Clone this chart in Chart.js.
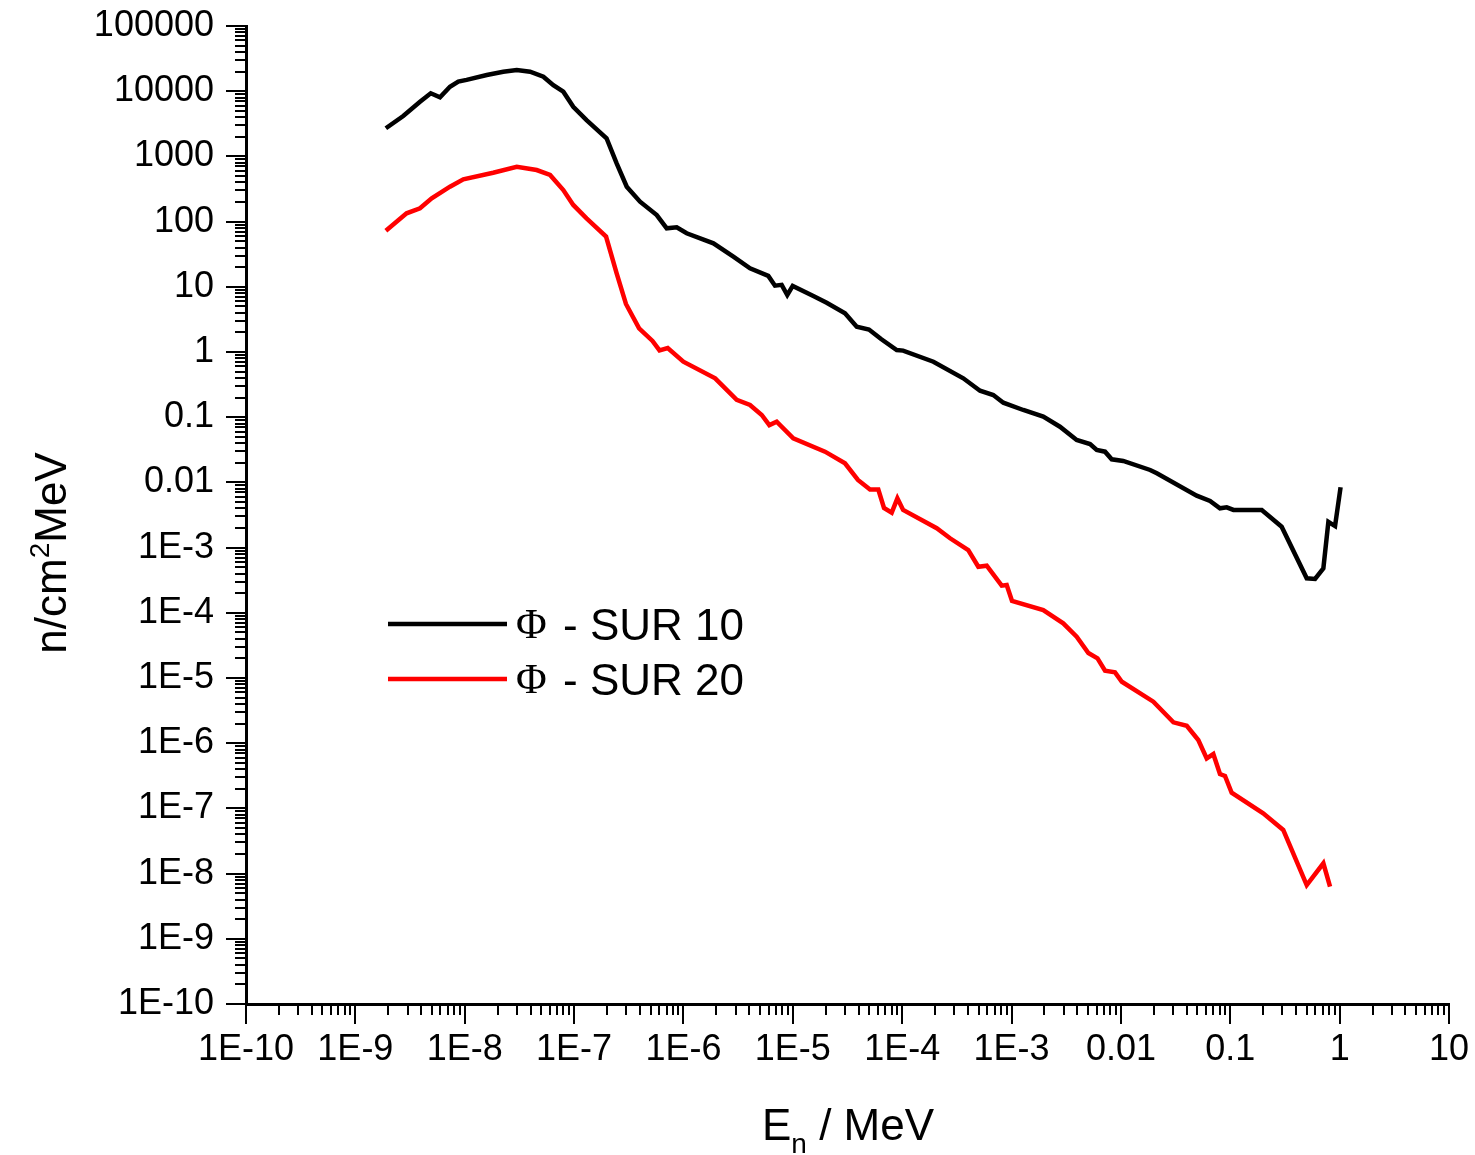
<!DOCTYPE html>
<html><head><meta charset="utf-8">
<script src="https://cdn.jsdelivr.net/npm/chart.js@4.4.1/dist/chart.umd.min.js"></script>
<style>html,body{margin:0;padding:0;background:#fff}canvas{display:block}</style>
</head><body>
<canvas id="c" width="1475" height="1155"></canvas>
<script>
// ---- data ----
const sur10E = [1.9e-9,2.74e-9,3.9e-9,4.89e-9,5.94e-9,7.33e-9,8.73e-9,1.04e-8,1.59e-8,2.25e-8,2.99e-8,3.96e-8,5.24e-8,6.46e-8,7.97e-8,9.83e-8,1.30e-7,1.98e-7,2.45e-7,3.03e-7,4.01e-7,5.70e-7,7.03e-7,8.68e-7,1.07e-6,1.88e-6,2.86e-6,4.06e-6,5.97e-6,6.87e-6,7.91e-6,8.90e-6,9.98e-6,1.54e-5,2.04e-5,3.00e-5,3.84e-5,4.97e-5,6.41e-5,8.91e-5,1.02e-4,1.93e-4,3.62e-4,5.15e-4,6.81e-4,8.41e-4,1.28e-3,1.95e-3,2.77e-3,3.94e-3,5.22e-3,6.01e-3,7.16e-3,8.24e-3,1.05e-2,1.85e-2,2.13e-2,4.93e-2,6.53e-2,8.05e-2,9.28e-2,0.107,0.194,0.295,0.500,0.596,0.710,0.789,0.908,1.02];
const sur10Flux = [2700,4170,6900,9290,8060,11700,14000,14900,17700,19900,21100,19900,16700,12400,9810,5780,3610,1900,783,343,202,126,78.9,81.8,66.2,46.5,29.0,19.2,14.7,10.4,10.7,7.48,10.3,7.23,5.70,3.93,2.44,2.21,1.58,1.07,1.05,0.710,0.395,0.255,0.219,0.167,0.129,0.102,0.0715,0.0447,0.0388,0.0314,0.0296,0.0226,0.0213,0.0155,0.0138,0.00626,0.00519,0.00401,0.00415,0.00378,0.00378,0.00209,3.38e-4,3.30e-4,4.82e-4,2.49e-3,2.14e-3,8.41e-3];
const sur20E = [1.9e-9,2.94e-9,3.9e-9,4.99e-9,7.33e-9,9.71e-9,1.82e-8,2.99e-8,4.55e-8,6.03e-8,7.97e-8,9.83e-8,1.30e-7,1.96e-7,2.45e-7,2.98e-7,3.93e-7,5.21e-7,6.04e-7,7.18e-7,9.98e-7,1.95e-6,3.07e-6,4.06e-6,5.20e-6,6.10e-6,7.12e-6,1.01e-5,1.97e-5,3.00e-5,3.94e-5,5.08e-5,6.05e-5,6.82e-5,8.02e-5,9.04e-5,1.02e-4,2.07e-4,2.74e-4,4.02e-4,4.97e-4,5.93e-4,8.13e-4,9.03e-4,1.01e-3,1.95e-3,2.97e-3,3.94e-3,5.04e-3,6.11e-3,7.16e-3,8.83e-3,1.02e-2,1.98e-2,3.02e-2,4.00e-2,5.10e-2,6.09e-2,7.00e-2,8.05e-2,8.95e-2,0.103,0.200,0.305,0.500,0.710,0.817];
const sur20Flux = [72.5,134,160,228,343,446,562,695,618,519,305,180,112,59.0,16.1,5.45,2.31,1.48,1.06,1.15,0.710,0.395,0.184,0.154,0.108,0.0757,0.0853,0.0474,0.0296,0.0196,0.0109,0.00776,0.00776,0.00405,0.00343,0.00570,0.00378,0.00198,0.00139,9.19e-4,5.09e-4,5.27e-4,2.61e-4,2.67e-4,1.52e-4,1.10e-4,6.90e-5,4.30e-5,2.42e-5,2.00e-5,1.29e-5,1.22e-5,8.77e-6,4.33e-6,2.09e-6,1.85e-6,1.12e-6,5.86e-7,6.82e-7,3.37e-7,3.14e-7,1.74e-7,8.41e-8,4.67e-8,6.68e-9,1.44e-8,6.30e-9];
const seriesLabels = ['Φ - SUR 10','Φ - SUR 20'];
const seriesColors = ['#000000','#ff0000'];
const xDecadeExps = [-10,-9,-8,-7,-6,-5,-4,-3,-2,-1,0,1];
const xTickLabels = ['1E-10','1E-9','1E-8','1E-7','1E-6','1E-5','1E-4','1E-3','0.01','0.1','1','10'];
const yDecadeExps = [-10,-9,-8,-7,-6,-5,-4,-3,-2,-1,0,1,2,3,4,5];
const yTickLabels = ['1E-10','1E-9','1E-8','1E-7','1E-6','1E-5','1E-4','1E-3','0.01','0.1','1','10','100','1000','10000','100000'];
const xTitle = ['E','n',' / MeV'];
const yTitle = ['n/cm','2','MeV'];

// ---- helpers ----
const SANS = '"Liberation Sans", Arial, Helvetica, sans-serif';
const SERIF = '"Liberation Serif", "Times New Roman", serif';
function isMajor(v){ const e=Math.round(Math.log10(v)); return Math.abs(v/Math.pow(10,e)-1)<1e-6; }
function buildTicks(exps){
  const t=[];
  exps.forEach((e,i)=>{
    t.push({value:Math.pow(10,e)});
    if(i<exps.length-1) for(let d=2;d<=9;d++) t.push({value:d*Math.pow(10,e)});
  });
  return t;
}
function labelFor(exps, labels){
  return function(v){ if(!isMajor(v)) return ''; const e=Math.round(Math.log10(v)); const i=exps.indexOf(e); return i>=0?labels[i]:''; };
}

const tickPlugin = {
  id:'tickMarks',
  afterDraw(chart){
    const ctx=chart.ctx, xs=chart.scales.x, ys=chart.scales.y;
    ctx.save(); ctx.strokeStyle='#000'; ctx.lineWidth=2;
    xs.ticks.forEach(t=>{
      const px=Math.round(xs.getPixelForValue(t.value)); const len=isMajor(t.value)?20:11;
      ctx.beginPath(); ctx.moveTo(px, xs.top); ctx.lineTo(px, xs.top+len); ctx.stroke();
    });
    ys.ticks.forEach(t=>{
      const py=Math.round(ys.getPixelForValue(t.value)); const len=isMajor(t.value)?20:11;
      ctx.beginPath(); ctx.moveTo(ys.right, py); ctx.lineTo(ys.right-len, py); ctx.stroke();
    });
    ctx.restore();
  }
};

const titlePlugin = {
  id:'axisTitles',
  afterDraw(chart){
    const ctx=chart.ctx;
    ctx.save(); ctx.fillStyle='#000'; ctx.textBaseline='alphabetic'; ctx.textAlign='left';
    // x title
    let x=762; const base=1140;
    ctx.font='44px '+SANS; ctx.fillText(xTitle[0], x, base); x+=ctx.measureText(xTitle[0]).width;
    ctx.font='28px '+SANS; ctx.fillText(xTitle[1], x, base+13); x+=ctx.measureText(xTitle[1]).width;
    ctx.font='44px '+SANS; ctx.fillText(xTitle[2], x, base);
    // y title (rotated)
    ctx.translate(50, 553); ctx.rotate(-Math.PI/2);
    ctx.font='44px '+SANS; const w0=ctx.measureText(yTitle[0]).width, w2=ctx.measureText(yTitle[2]).width;
    ctx.font='28px '+SANS; const w1=ctx.measureText(yTitle[1]).width;
    let u=-(w0+w1+w2)/2; const b=15.5;
    ctx.font='44px '+SANS; ctx.fillText(yTitle[0], u, b); u+=w0;
    ctx.font='28px '+SANS; ctx.fillText(yTitle[1], u, b-17); u+=w1;
    ctx.font='44px '+SANS; ctx.fillText(yTitle[2], u, b);
    ctx.restore();
  }
};

const legendPlugin = {
  id:'innerLegend',
  afterDraw(chart){
    const ctx=chart.ctx;
    ctx.save();
    chart.data.datasets.forEach((ds,i)=>{
      const y=624+i*55;
      ctx.strokeStyle=ds.borderColor; ctx.lineWidth=4.5;
      ctx.beginPath(); ctx.moveTo(388,y); ctx.lineTo(507,y); ctx.stroke();
      const lab=ds.label; const phi=lab.charAt(0); const rest=lab.slice(1).trim(); // "- SUR 10"
      const dash=rest.charAt(0); const name=rest.slice(1).trim();
      ctx.fillStyle='#000'; ctx.textBaseline='alphabetic'; ctx.textAlign='left';
      ctx.font='42px '+SERIF; ctx.fillText(phi, 516, y+14);
      ctx.font='44px '+SANS; ctx.fillText(dash, 563, y+16);
      ctx.fillText(name, 590, y+16);
    });
    ctx.restore();
  }
};

new Chart(document.getElementById('c'), {
  type:'line',
  data:{
    datasets:[
      {label:seriesLabels[0], data:sur10E.map((e,i)=>({x:e,y:sur10Flux[i]})), borderColor:seriesColors[0], backgroundColor:seriesColors[0], borderWidth:4.5, pointRadius:0, tension:0, fill:false},
      {label:seriesLabels[1], data:sur20E.map((e,i)=>({x:e,y:sur20Flux[i]})), borderColor:seriesColors[1], backgroundColor:seriesColors[1], borderWidth:4.5, pointRadius:0, tension:0, fill:false}
    ]
  },
  options:{
    responsive:false, animation:false, devicePixelRatio:1,
    layout:{padding:{top:26,right:26,left:0,bottom:0}},
    plugins:{legend:{display:false}, tooltip:{enabled:false}},
    scales:{
      x:{
        type:'logarithmic', position:'bottom', min:1e-10, max:10,
        afterBuildTicks:(s)=>{ s.ticks=buildTicks(xDecadeExps); },
        afterFit:(s)=>{ s.height=151; s.paddingLeft=0; s.paddingRight=0; },
        grid:{display:true, drawOnChartArea:false, drawTicks:true, tickLength:20, tickColor:'rgba(0,0,0,0)'},
        border:{display:true, color:'#000', width:3},
        ticks:{autoSkip:false, maxRotation:0, minRotation:0, padding:4, color:'#000', font:{family:SANS, size:36}, callback:labelFor(xDecadeExps,xTickLabels)}
      },
      y:{
        type:'logarithmic', position:'left', min:1e-10, max:1e5,
        afterBuildTicks:(s)=>{ s.ticks=buildTicks(yDecadeExps); },
        afterFit:(s)=>{ s.width=246; s.paddingTop=0; s.paddingBottom=0; },
        grid:{display:true, drawOnChartArea:false, drawTicks:true, tickLength:20, tickColor:'rgba(0,0,0,0)'},
        border:{display:true, color:'#000', width:3},
        ticks:{autoSkip:false, padding:12, color:'#000', font:{family:SANS, size:36}, callback:labelFor(yDecadeExps,yTickLabels)}
      }
    }
  },
  plugins:[tickPlugin, titlePlugin, legendPlugin]
});
</script>
</body></html>
